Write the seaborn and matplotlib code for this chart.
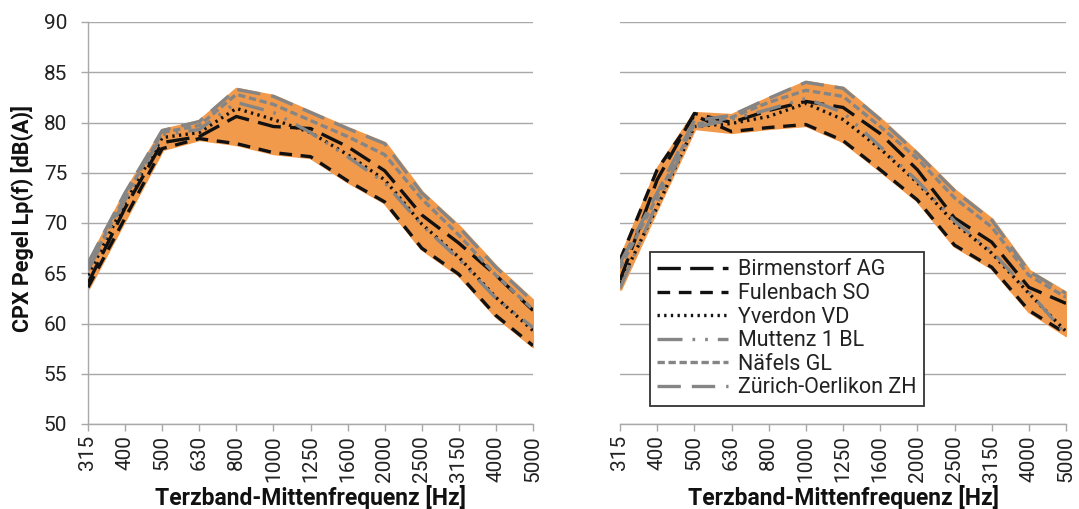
import numpy as np
import pandas as pd
import matplotlib
matplotlib.use("Agg")
import matplotlib.pyplot as plt
import seaborn as sns

# Third-octave band centre frequencies [Hz]
freqs = ["315", "400", "500", "630", "800", "1000", "1250",
         "1600", "2000", "2500", "3150", "4000", "5000"]

stations = ["Birmenstorf AG", "Fulenbach SO", "Yverdon VD",
            "Muttenz 1 BL", "Näfels GL", "Zürich-Oerlikon ZH"]

# CPX levels Lp(f) [dB(A)], first measurement set
left_birmenstorf = [64.0, 71.5, 78.0, 78.6, 80.6, 79.6, 79.4, 77.6, 75.2, 70.8, 68.0, 64.8, 61.3]
left_fulenbach   = [63.6, 70.5, 77.4, 78.4, 77.9, 77.0, 76.6, 74.2, 72.1, 67.5, 64.9, 60.8, 57.8]
left_yverdon     = [64.8, 72.0, 78.5, 79.0, 81.4, 80.3, 79.0, 76.8, 74.3, 69.9, 66.6, 62.6, 59.3]
left_muttenz     = [65.3, 72.3, 78.8, 79.3, 82.0, 81.0, 79.0, 76.6, 74.0, 69.8, 66.4, 62.5, 59.6]
left_naefels     = [65.6, 72.6, 79.0, 79.7, 82.8, 81.8, 80.2, 78.6, 76.8, 72.4, 68.8, 64.8, 61.4]
left_zuerich     = [66.0, 73.0, 79.2, 80.1, 83.3, 82.6, 81.0, 79.4, 77.9, 73.0, 69.6, 65.6, 62.2]

# CPX levels Lp(f) [dB(A)], second measurement set
right_birmenstorf = [64.3, 74.3, 80.9, 80.0, 81.2, 82.1, 81.5, 78.9, 75.3, 70.5, 68.1, 63.6, 62.0]
right_fulenbach   = [66.3, 75.3, 80.7, 79.1, 79.5, 79.8, 78.2, 75.3, 72.3, 67.8, 65.6, 61.3, 59.0]
right_yverdon     = [64.0, 71.6, 79.6, 79.9, 80.6, 81.9, 80.3, 77.4, 74.0, 70.0, 67.0, 63.0, 59.2]
right_muttenz     = [63.5, 72.0, 79.5, 80.3, 81.3, 82.4, 81.0, 77.6, 74.2, 70.2, 67.2, 63.2, 58.9]
right_naefels     = [65.5, 72.6, 79.8, 80.5, 82.0, 83.2, 82.6, 79.6, 76.4, 72.5, 69.6, 64.8, 62.6]
right_zuerich     = [66.0, 73.0, 80.2, 80.7, 82.4, 84.0, 83.4, 80.3, 76.9, 73.2, 70.3, 65.2, 63.0]

y_ticks = [50, 55, 60, 65, 70, 75, 80, 85, 90]

BLACK = "#111111"
GREY = "#858585"
ORANGE = "#F29A4C"
GRID = "#A8A8A8"

palette = {
    "Birmenstorf AG": BLACK,
    "Fulenbach SO": BLACK,
    "Yverdon VD": BLACK,
    "Muttenz 1 BL": GREY,
    "Näfels GL": GREY,
    "Zürich-Oerlikon ZH": GREY,
}
dashes = {
    "Birmenstorf AG": (7.0, 2.8),
    "Fulenbach SO": (3.8, 2.6),
    "Yverdon VD": (0.7, 1.3),
    "Muttenz 1 BL": (7.5, 3.0, 0.8, 3.0, 0.8, 3.0),
    "Näfels GL": (2.2, 1.1),
    "Zürich-Oerlikon ZH": (7.0, 3.3),
}


def to_frame(series):
    rows = []
    for name, vals in zip(stations, series):
        for i, v in enumerate(vals):
            rows.append({"pos": i, "freq": freqs[i], "station": name, "level": v})
    return pd.DataFrame(rows)


left_df = to_frame([left_birmenstorf, left_fulenbach, left_yverdon,
                    left_muttenz, left_naefels, left_zuerich])
right_df = to_frame([right_birmenstorf, right_fulenbach, right_yverdon,
                     right_muttenz, right_naefels, right_zuerich])

sns.set_theme(style="white")
plt.rcParams["font.family"] = ["Roboto", "DejaVu Sans"]

fig = plt.figure(figsize=(10.79, 5.09), dpi=100)
ax_l = fig.add_axes([88 / 1079, 85 / 509, 445 / 1079, 402 / 509])
ax_r = fig.add_axes([620 / 1079, 85 / 509, 446 / 1079, 402 / 509])


def draw_panel(ax, df, show_legend, show_yaxis):
    wide = df.pivot(index="pos", columns="station", values="level")
    ax.fill_between(wide.index, wide.min(axis=1), wide.max(axis=1),
                    color=ORANGE, linewidth=3.0, edgecolor=ORANGE, zorder=1)
    sns.lineplot(data=df, x="pos", y="level", hue="station", style="station",
                 hue_order=stations, style_order=stations,
                 palette=palette, dashes=dashes, linewidth=2.4,
                 legend=show_legend, ax=ax, zorder=3)
    ax.set_xlim(0, len(freqs) - 1)
    ax.set_ylim(50, 90)
    ax.set_xticks(range(len(freqs)))
    ax.set_xticklabels(freqs, rotation=90, fontsize=15, color="#222222")
    ax.set_yticks(y_ticks)
    ax.set_axisbelow(True)
    ax.grid(axis="y", color=GRID, linewidth=1.0)
    ax.grid(axis="x", visible=False)
    ax.set_xlabel("")
    ax.set_ylabel("")
    for side in ["top", "right"]:
        ax.spines[side].set_visible(False)
    ax.spines["bottom"].set_color(GRID)
    ax.spines["bottom"].set_linewidth(1.0)
    ax.tick_params(axis="x", bottom=True, length=5, width=1.0, color=GRID, pad=3)
    if show_yaxis:
        ax.spines["left"].set_color(GRID)
        ax.spines["left"].set_linewidth(1.0)
        ax.tick_params(axis="y", left=True, length=5, width=1.0, color=GRID,
                       labelsize=15, labelcolor="#222222", pad=10)
    else:
        ax.spines["left"].set_visible(False)
        ax.tick_params(axis="y", left=False, labelleft=False)
    if show_legend:
        handles, labels = ax.get_legend_handles_labels()
        leg = ax.legend(handles, labels, loc="lower left",
                        bbox_to_anchor=(0.067, 0.045), borderaxespad=0,
                        fontsize=15.5, handlelength=3.3, handletextpad=0.45,
                        labelspacing=0.12, borderpad=0.35,
                        fancybox=False, framealpha=1, edgecolor="#333333")
        leg.get_frame().set_linewidth(1.3)
        for t in leg.get_texts():
            t.set_color("#222222")


draw_panel(ax_l, left_df, False, True)
draw_panel(ax_r, right_df, True, False)

fig.text(23 / 1079, 1 - 218 / 509, "CPX Pegel Lp(f) [dB(A)]", rotation=90,
         ha="center", va="center", fontsize=15.5, fontweight="bold",
         color="#111111")
for ax in (ax_l, ax_r):
    box = ax.get_position()
    fig.text(box.x0 + box.width / 2, 1 - 497 / 509, "Terzband-Mittenfrequenz [Hz]",
             ha="center", va="center", fontsize=16.5, fontweight="bold",
             color="#111111")

fig.savefig("out.png", dpi=100)
